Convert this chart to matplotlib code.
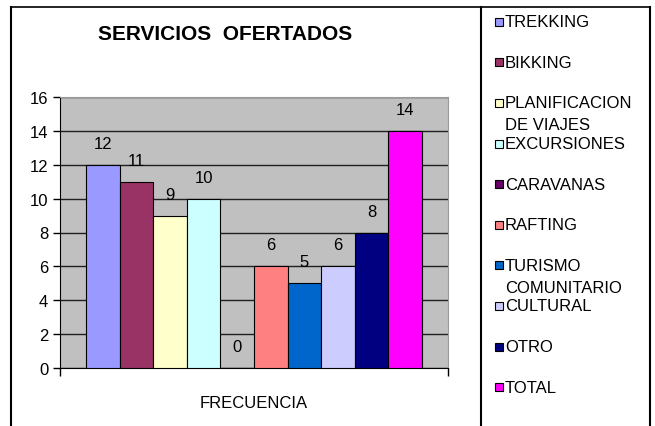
import numpy as np
import matplotlib.pyplot as plt
from matplotlib.patches import Rectangle
from matplotlib.lines import Line2D

plt.rcParams['font.family'] = ['Liberation Sans', 'DejaVu Sans']

servicios = ['TREKKING', 'BIKKING', 'PLANIFICACION\nDE VIAJES', 'EXCURSIONES',
             'CARAVANAS', 'RAFTING', 'TURISMO\nCOMUNITARIO', 'CULTURAL',
             'OTRO', 'TOTAL']
frecuencia = [12, 11, 9, 10, 0, 6, 5, 6, 8, 14]
colores = ['#9999FF', '#993366', '#FFFFCC', '#CCFFFF', '#660066',
           '#FF8080', '#0066CC', '#CCCCFF', '#000080', '#FF00FF']
yticks = [0, 2, 4, 6, 8, 10, 12, 14, 16]

W, H = 655, 427


def fx(px):
    return px / W


def fy(py):
    return 1 - py / H


fig = plt.figure(figsize=(W / 100, H / 100), dpi=100)

# marcos exteriores
fig.add_artist(Line2D([fx(11), fx(650)], [fy(8), fy(8)], color='black', lw=1.2))
fig.add_artist(Line2D([fx(11), fx(11)], [fy(8), 0], color='black', lw=1.5))
fig.add_artist(Line2D([fx(481), fx(481)], [fy(8), 0], color='black', lw=1.5))
fig.add_artist(Line2D([fx(650), fx(650)], [fy(8), 0], color='black', lw=1.5))

ax = fig.add_axes([fx(60), fy(369), fx(448) - fx(60), fy(98) - fy(369)])
ax.set_facecolor('#C0C0C0')

n = len(frecuencia)
x = np.arange(n)
bars = ax.bar(x, frecuencia, width=1.0, color=colores, edgecolor='black',
              linewidth=0.8, zorder=3)
ax.bar_label(bars, padding=10, fontsize=12, zorder=4)

ax.set_xlim(-1.27, n - 1 + 1.27)
ax.set_ylim(0, 16)
ax.set_yticks(yticks)
ax.set_xticks([-1.27, n - 1 + 1.27])
ax.set_xticklabels(['', ''])
ax.tick_params(axis='both', direction='out', length=5, width=1, labelsize=12)
ax.tick_params(axis='x', length=6)
ax.yaxis.grid(True, color='#202020', lw=1, zorder=1)
ax.set_axisbelow(True)
for s in ['top', 'right']:
    ax.spines[s].set_color('#9a9a9a')
for s in ['left', 'bottom']:
    ax.spines[s].set_color('black')
ax.set_xlabel('FRECUENCIA', fontsize=12, labelpad=10)

fig.text(fx(225), fy(34), 'SERVICIOS  OFERTADOS', fontsize=15, fontweight='bold',
         ha='center', va='center')

# leyenda
y0, paso = 22.7, 40.6
for i, (nombre, c) in enumerate(zip(servicios, colores)):
    yc = y0 + i * paso
    fig.add_artist(Rectangle((fx(495), fy(yc + 4)), fx(8), 8 / H,
                             facecolor=c, edgecolor='black', lw=0.8))
    for j, linea in enumerate(nombre.split('\n')):
        fig.text(fx(505), fy(yc + j * 22), linea, fontsize=12,
                 ha='left', va='center')

fig.savefig('out.png', dpi=100)
